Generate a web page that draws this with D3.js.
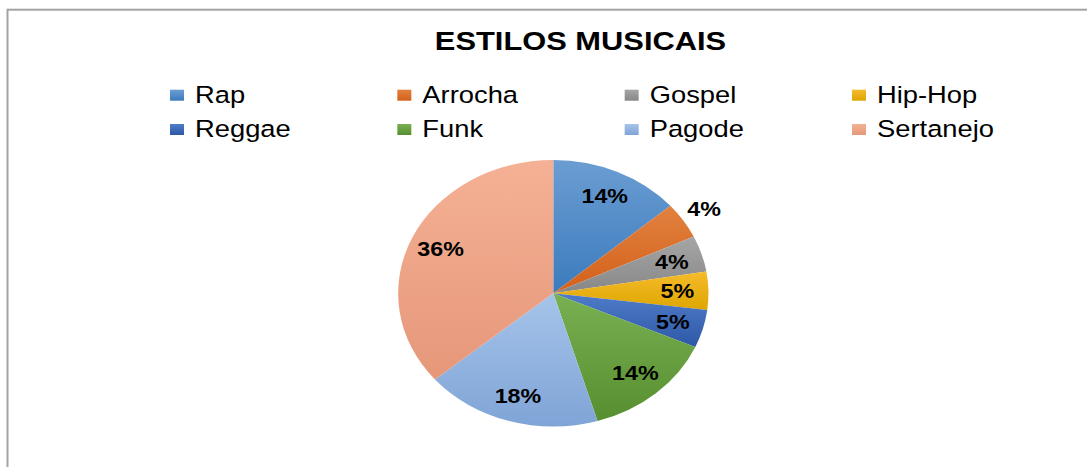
<!DOCTYPE html>
<html>
<head>
<meta charset="utf-8">
<script src="https://cdn.jsdelivr.net/npm/d3@7"></script>
<style>
  html, body { margin: 0; padding: 0; background: #fff; }
  svg { display: block; }
  text { font-family: "Liberation Sans", Arial, sans-serif; }
</style>
</head>
<body>
<svg id="chart" width="1087" height="467"></svg>
<script>
// ---- data ----
const title = "ESTILOS MUSICAIS";
const categories = ["Rap", "Arrocha", "Gospel", "Hip-Hop", "Reggae", "Funk", "Pagode", "Sertanejo"];
const values = [13.6, 4.4, 4.4, 4.6, 4.6, 13.8, 18.4, 36.2];
const percentLabels = ["14%", "4%", "4%", "5%", "5%", "14%", "18%", "36%"];
const outsideLabels = ["Arrocha"];
const colorsTop = ["#6b9dd2", "#e2813f", "#a6a6a6", "#f5bb2c", "#4f7cc9", "#78b052", "#a6c4ea", "#f5b195"];
const colorsBottom = ["#3c7bbd", "#d3611b", "#878787", "#dea600", "#2d58a6", "#578f30", "#7fa4d6", "#e6977a"];

// ---- layout ----
const W = 1087, H = 467;
const svg = d3.select("#chart");
const stretch = 1.164;           // horizontal stretch of the picture
const cx = 553.3, cy = 293.3, ry = 133.3;

// frame
svg.append("rect").attr("x", 7.5).attr("y", 9.7).attr("width", 1200).attr("height", 600)
  .attr("fill", "none").attr("stroke", "#a3a3a3").attr("stroke-width", 2);

// gradients
const defs = svg.append("defs");
categories.forEach((c, i) => {
  const g = defs.append("linearGradient").attr("id", "grad" + i)
    .attr("x1", 0).attr("y1", 0).attr("x2", 0).attr("y2", 1);
  g.append("stop").attr("offset", "0%").attr("stop-color", colorsTop[i]);
  g.append("stop").attr("offset", "100%").attr("stop-color", colorsBottom[i]);
});

// title
svg.append("g").attr("transform", `translate(580.5,50) scale(${stretch},1)`)
  .append("text").attr("text-anchor", "middle")
  .attr("font-size", 26.5).attr("font-weight", "bold").attr("fill", "#000")
  .text(title);

// legend
const colX = d3.scaleLinear().domain([0, 3]).range([170, 852]);
const rowY = d3.scaleLinear().domain([0, 1]).range([103, 137.3]);
const legend = svg.append("g");
categories.forEach((c, i) => {
  const col = i % 4, row = Math.floor(i / 4);
  const x = colX(col), y = rowY(row);
  legend.append("rect").attr("x", x).attr("y", y - 13.3)
    .attr("width", 14).attr("height", 11).attr("fill", `url(#grad${i})`);
  legend.append("g").attr("transform", `translate(${x + 25},${y}) scale(${stretch},1)`)
    .append("text").attr("font-size", 23.5).attr("fill", "#000").text(c);
});

// pie
const pie = d3.pie().sort(null).value(d => d)(values);
const arc = d3.arc().innerRadius(0).outerRadius(ry);
const pieG = svg.append("g").attr("transform", `translate(${cx},${cy}) scale(${stretch},1)`);
pieG.selectAll("path").data(pie).enter().append("path")
  .attr("d", arc)
  .attr("fill", (d, i) => `url(#grad${i})`);

// labels
const labelsG = svg.append("g").attr("transform", `translate(${cx},${cy})`);
pie.forEach((d, i) => {
  const outside = outsideLabels.includes(categories[i]);
  const rf = outside ? 1.16 : 0.8;
  const a = (d.startAngle + d.endAngle) / 2;
  const x = Math.sin(a) * ry * rf * stretch;
  const y = -Math.cos(a) * ry * rf;
  labelsG.append("g").attr("transform", `translate(${x},${y + 7}) scale(${stretch},1)`)
    .append("text").attr("text-anchor", "middle")
    .attr("font-size", 20).attr("font-weight", "bold").attr("fill", "#000")
    .text(percentLabels[i]);
});
</script>
</body>
</html>
